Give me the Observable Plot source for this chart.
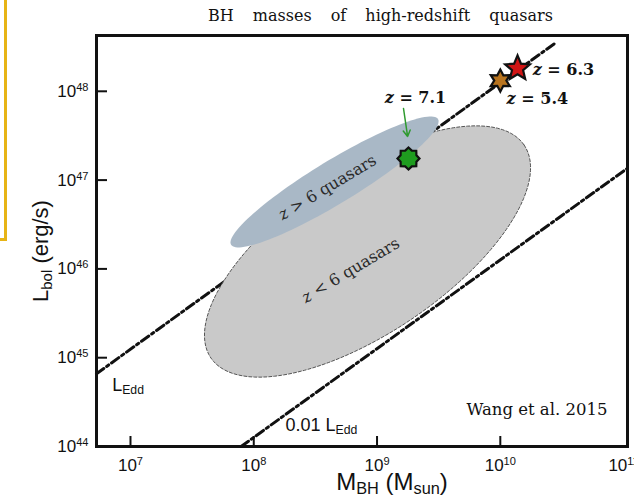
<!DOCTYPE html>
<html><head><meta charset="utf-8">
<script src="https://cdn.jsdelivr.net/npm/d3@7"></script>
<script src="https://cdn.jsdelivr.net/npm/@observablehq/plot@0.6"></script>
<style>
body{margin:0;background:#fff;}
#page{position:relative;width:634px;height:501px;overflow:hidden;background:#fff;}
#head{position:relative;height:28px;}
#title{position:absolute;left:208px;top:6px;font:16px 'DejaVu Serif',serif;word-spacing:14px;white-space:nowrap;color:#111;}
#deco{position:absolute;left:-10px;top:-5px;width:11px;height:240px;border:3px solid #e7b416;}
</style></head>
<body><div id="page"><div id="head"><div id="title"></div></div><div id="chart"></div><div id="deco"></div></div>
<script>
// ---- data ----
const titleText = "BH masses of high-redshift quasars";
const massDomain = [5.3e6, 1.076e11];
const lumDomain = [1e44, 4.25e48];
const massTicks = [1e7, 1e8, 1e9, 1e10, 1e11];
const massTickMarks = [1e7, 1e8, 1e9, 1e10];
const lumTicks = [1e44, 1e45, 1e46, 1e47, 1e48];

// Eddington lines (endpoints)
const eddMass = [5.3e6, 2.8e10];
const eddLum = [6.6e44, 3.5e48];
const edd01Mass = [7.9e7, 1.076e11];
const edd01Lum = [1e44, 1.36e47];

// ellipses: center (mass, lum) and conjugate semi-axis vectors in dex (log10 units)
const lowzCenter = [8.37e8, 1.57e46];
const lowzMajor = [1.27, 1.20];
const lowzMinor = [0.37, -0.75];
const highzCenter = [4.52e8, 9.53e46];
const highzMajor = [0.844, 0.681];
const highzMinor = [0, -0.282];

// quasars
const qsoLabels = ["z = 5.4", "z = 6.3", "z = 7.1"];
const qsoMass = [1.0e10, 1.38e10, 1.8e9];
const qsoLum = [1.32e48, 1.81e48, 1.75e47];
const qsoColors = ["#b8741f", "#d01414", "#1f9c1f"];
const qsoPoints = [6, 5, 8];
const qsoInner = [0.55, 0.45, 0.78];
const qsoRadius = [11, 13, 11];
const qsoLabelMass = [1.125e10, 1.83e10, 2.05e9];
const qsoLabelLum = [8.3e47, 1.76e48, 8.5e47];
const qsoLabelAnchor = ["start", "start", "middle"];

// arrow to z=7.1
const arrowMass = [1.64e9, 1.77e9];
const arrowLum = [6.4e47, 3.1e47];

// region labels
const regionText = ["*z* > 6 quasars", "*z* < 6 quasars"];
const regionMass = [3.96e8, 6.1e8];
const regionLum = [8.26e46, 9.6e45];
const regionAngle = -31;

// line labels
const lineText = ["L_{Edd}", "0.01 L_{Edd}"];
const lineMass = [7.1e6, 1.81e8];
const lineLum = [4.87e44, 1.72e44];

const creditText = "Wang et al. 2015";
const creditMass = 7.4e10;
const creditLum = 2.6e44;

const yLabel = "L_{bol} (erg/s)";
const xLabel = "M_{BH} (M_{sun})";

// ---- helpers ----
function ellipse(center, major, minor) {
  const cx = Math.log10(center[0]), cy = Math.log10(center[1]);
  return d3.range(0, 120).map(i => {
    const t = i / 120 * 2 * Math.PI;
    return {x: 10 ** (cx + Math.cos(t) * major[0] + Math.sin(t) * minor[0]),
            y: 10 ** (cy + Math.cos(t) * major[1] + Math.sin(t) * minor[1])};
  });
}
function star(n, inner) {
  return {draw(ctx, size) {
    const R = Math.sqrt(size / Math.PI), r = R * inner;
    for (let i = 0; i < 2 * n; i++) {
      const a = -Math.PI / 2 + i * Math.PI / n, rr = i % 2 ? r : R;
      const x = Math.cos(a) * rr, y = Math.sin(a) * rr;
      i ? ctx.lineTo(x, y) : ctx.moveTo(x, y);
    }
    ctx.closePath();
  }};
}
const pow = d => "10^{" + Math.round(Math.log10(d)) + "}";

const dash = "9,3.5,2.5,3.5";
const serif = "'DejaVu Serif', serif";
const sans = "'Liberation Sans', Arial, sans-serif";

const W = 634, H = 473, mL = 96, mR = 7, mT = 7, mB = 55;
const plotW = W - mL - mR, plotH = H - mT - mB;

const qso = qsoMass.map((m, i) => ({m, l: qsoLum[i], i}));
const qsoLab = qsoLabels.map((t, i) => ({t: t.replace("z", "*z*"), m: qsoLabelMass[i], l: qsoLabelLum[i], a: qsoLabelAnchor[i]}));
const labStyle = {x: "m", y: "l", text: "t", fontFamily: serif, fontWeight: "bold", fontSize: 16, fill: "#111", lineAnchor: "middle"};

const chart = Plot.plot({
  width: W, height: H,
  marginLeft: mL, marginRight: mR, marginTop: mT, marginBottom: mB,
  style: {fontFamily: sans, fontSize: "17px", color: "#111", background: "transparent"},
  x: {type: "log", domain: massDomain, ticks: massTicks, tickFormat: pow, tickSize: 0, tickPadding: 12, label: null},
  y: {type: "log", domain: lumDomain, ticks: lumTicks, tickFormat: pow, tickSize: 0, tickPadding: 8, label: null},
  marks: [
    Plot.line(eddMass.map((m, i) => ({m, l: eddLum[i]})), {x: "m", y: "l", stroke: "#111", strokeWidth: 3, strokeDasharray: dash}),
    Plot.line(edd01Mass.map((m, i) => ({m, l: edd01Lum[i]})), {x: "m", y: "l", stroke: "#111", strokeWidth: 3, strokeDasharray: dash}),
    Plot.line(ellipse(lowzCenter, lowzMajor, lowzMinor), {x: "x", y: "y", fill: "#c9c9c9", stroke: "#555", strokeWidth: 1, strokeDasharray: "3,2", curve: "linear-closed"}),
    Plot.line(ellipse(highzCenter, highzMajor, highzMinor), {x: "x", y: "y", fill: "#a9b8c6", stroke: "none", curve: "linear-closed"}),
    Plot.frame({stroke: "#111", strokeWidth: 3}),
    Plot.tickY(lumTicks, {y: d => d, insetRight: plotW - 11, stroke: "#111", strokeWidth: 2}),
    Plot.tickX(massTickMarks, {x: d => d, insetTop: plotH - 10, stroke: "#111", strokeWidth: 2}),
    Plot.text(regionText, {x: (d, i) => regionMass[i], y: (d, i) => regionLum[i], text: d => d, rotate: regionAngle, fontFamily: serif, fontSize: 16, fill: "#2a2a2a", textAnchor: "middle", lineAnchor: "middle", wordSpacing: 4}),
    Plot.text(lineText, {x: (d, i) => lineMass[i], y: (d, i) => lineLum[i], text: d => d, fontFamily: sans, fontSize: 18, fill: "#111", textAnchor: "start", lineAnchor: "middle"}),
    Plot.text([creditText], {x: creditMass, y: creditLum, text: d => d, fontFamily: serif, fontSize: 16.5, fill: "#111", textAnchor: "end", lineAnchor: "middle"}),
    Plot.arrow([0], {x1: arrowMass[0], y1: arrowLum[0], x2: arrowMass[1], y2: arrowLum[1], stroke: "#2e9a2e", strokeWidth: 1.5, headLength: 7}),
    ...qso.map(d => Plot.dot([d], {x: "m", y: "l", r: qsoRadius[d.i], symbol: star(qsoPoints[d.i], qsoInner[d.i]), fill: qsoColors[d.i], stroke: "#111", strokeWidth: 2.2})),
    Plot.text(qsoLab.filter(d => d.a === "start"), {...labStyle, textAnchor: "start"}),
    Plot.text(qsoLab.filter(d => d.a === "middle"), {...labStyle, textAnchor: "middle"}),
    Plot.text([yLabel], {frameAnchor: "left", dx: -56, dy: 10, rotate: -90, text: d => d, fontFamily: sans, fontSize: 22, fill: "#111", textAnchor: "middle", lineAnchor: "middle"}),
    Plot.text([xLabel], {frameAnchor: "bottom", dx: 30, dy: 36, text: d => d, fontFamily: sans, fontSize: 24, fill: "#111", textAnchor: "middle", lineAnchor: "middle"})
  ]
});

function richify(root) {
  root.querySelectorAll("text").forEach(t => {
    if (t.querySelector("tspan")) return;
    const s = t.textContent;
    if (!/[_^]\{|\*/.test(s)) return;
    t.textContent = "";
    s.split(/(_\{[^}]*\}|\^\{[^}]*\}|\*[^*]+\*)/).filter(p => p).forEach(p => {
      const ts = document.createElementNS("http://www.w3.org/2000/svg", "tspan");
      if (p.startsWith("_{")) { ts.textContent = p.slice(2, -1); ts.setAttribute("baseline-shift", "-25%"); ts.style.fontSize = "0.68em"; }
      else if (p.startsWith("^{")) { ts.textContent = p.slice(2, -1); ts.setAttribute("baseline-shift", "super"); ts.style.fontSize = "0.65em"; }
      else if (p.startsWith("*")) { ts.textContent = p.slice(1, -1); ts.setAttribute("font-style", "italic"); }
      else ts.textContent = p;
      t.appendChild(ts);
    });
  });
}
richify(chart);
document.getElementById("title").textContent = titleText;
document.getElementById("chart").appendChild(chart);
</script>
</body></html>
